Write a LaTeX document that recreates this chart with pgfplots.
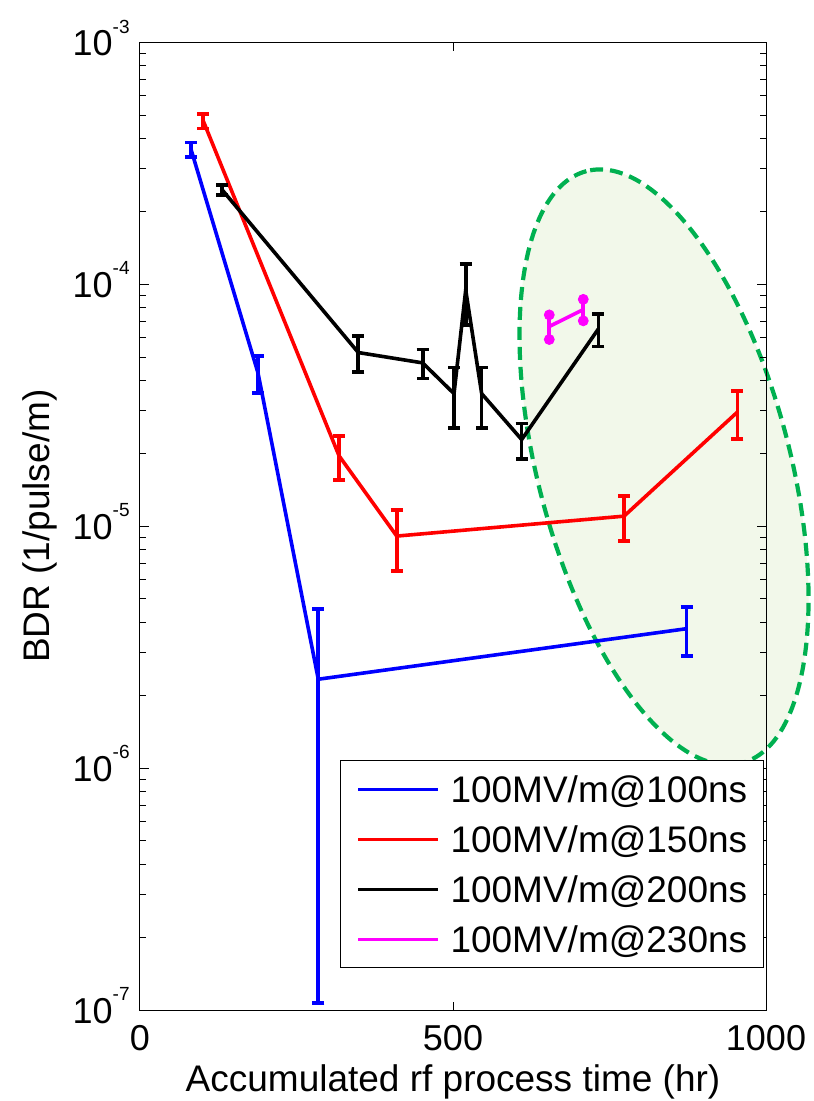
\documentclass[border=0pt]{standalone}
\usepackage{fontspec}
\setmainfont{Liberation Sans}
\usepackage{pgfplots}
\pgfplotsset{compat=1.18}
\definecolor{ellfill}{RGB}{242,248,234}
\definecolor{ellline}{RGB}{0,176,80}
\definecolor{mblue}{RGB}{0,0,255}
\definecolor{mred}{RGB}{255,0,0}
\definecolor{mmag}{RGB}{255,0,255}
\newcommand{\tp}[1]{10\raisebox{11.3pt}{\fontsize{9.5}{10}\selectfont #1}}
\pgfplotstableread{
x y e
81.5 3.61e-4 0.25e-4
188.5 4.3e-5 0.75e-5
284.8 2.33e-6 2.223e-6
873.3 3.77e-6 0.87e-6
}\blueT
\pgfplotstableread{
x y e
101.1 4.73e-4 0.32e-4
317.9 1.955e-5 0.40e-5
410.1 9.1e-6 2.56e-6
773.2 1.10e-5 0.23e-5
954.2 2.96e-5 0.67e-5
}\redT
\pgfplotstableread{
x y e
131.3 2.455e-4 0.115e-4
348.7 5.22e-5 0.89e-5
451.6 4.73e-5 0.65e-5
501.6 3.53e-5 0.99e-5
520.3 9.46e-5 2.66e-5
545.8 3.53e-5 0.99e-5
609.7 2.28e-5 0.38e-5
732.1 6.53e-5 1.0e-5
}\blackT
\pgfplotstableread{
x y e
653.8 6.69e-5 0.78e-5
708.1 7.86e-5 0.80e-5
}\magT
\begin{document}
\begin{tikzpicture}
\begin{axis}[
  at={(0pt,0pt)}, anchor=south west,
  scale only axis, width=313pt, height=483.85pt,
  xmin=0, xmax=1000, ymin=1e-7, ymax=1e-3, ymode=log,
  xtick={0,500,1000}, xticklabels={0,500,1000},
  minor xtick={},
  ytick={1e-7,1e-6,1e-5,1e-4,1e-3},
  yticklabels={\tp{-7},\tp{-6},\tp{-5},\tp{-4},\tp{-3}},
  minor ytick={2e-7,3e-7,4e-7,5e-7,6e-7,7e-7,8e-7,9e-7,2e-6,3e-6,4e-6,5e-6,6e-6,7e-6,8e-6,9e-6,2e-5,3e-5,4e-5,5e-5,6e-5,7e-5,8e-5,9e-5,2e-4,3e-4,4e-4,5e-4,6e-4,7e-4,8e-4,9e-4},
  tick align=inside,
  axis on top,
  clip=false,
  axis line style={line width=0.5pt},
  every tick/.style={black, line width=0.5pt},
  tick label style={font=\fontsize{18}{20}\selectfont},
  xticklabel style={anchor=base, yshift=-20pt},
  yticklabel style={anchor=base east, inner sep=0pt, xshift=-5pt, yshift=-6.65pt},
  xlabel={Accumulated rf process time (hr)},
  ylabel={BDR (1/pulse/m)},
  label style={font=\fontsize{18.5}{22}\selectfont},
  xlabel style={at={(axis description cs:0.5,-0.0844)}, anchor=base},
  ylabel style={at={(axis description cs:-0.1438,0.5)}, anchor=base},
  legend style={at={(0.3195,0.2583)}, anchor=north west, draw=black, line width=0.5pt, fill=white,
    inner xsep=8pt, inner ysep=7.7pt, row sep=11.8pt,
    font=\fontsize{18.5}{22}\selectfont,
    nodes={inner sep=0pt, text height=13.2pt, text depth=0pt},
    /tikz/every odd column/.append style={column sep=5.5pt}},
  legend cell align=left,
  legend image code/.code={\draw[line width=1.5pt] (0pt,0pt) -- (40pt,0pt);},
]
\fill[ellfill] (axis cs:837.1,1.754e-5) ellipse [x radius=153pt, y radius=63pt, rotate=104.7];
\draw[ellline, line width=2.1pt, dash pattern=on 6.5pt off 3.5pt] (axis cs:837.1,1.754e-5) ellipse [x radius=153pt, y radius=63pt, rotate=104.7];

\addplot[mblue, line width=1.8pt, no marks,
  error bars/.cd, y dir=both, y explicit,
  error bar style={line width=1.8pt},
  error mark options={rotate=90, mark size=3pt, line width=1.8pt, mblue}]
  table[x=x, y=y, y error=e] {\blueT};
\addlegendentry{100MV/m@100ns}
\addplot[mred, line width=1.8pt, no marks,
  error bars/.cd, y dir=both, y explicit,
  error bar style={line width=1.8pt},
  error mark options={rotate=90, mark size=3pt, line width=1.8pt, mred}]
  table[x=x, y=y, y error=e] {\redT};
\addlegendentry{100MV/m@150ns}
\addplot[black, line width=1.8pt, no marks,
  error bars/.cd, y dir=both, y explicit,
  error bar style={line width=1.8pt},
  error mark options={rotate=90, mark size=3pt, line width=1.8pt, black}]
  table[x=x, y=y, y error=e] {\blackT};
\addlegendentry{100MV/m@200ns}
\addplot[mmag, line width=1.8pt, no marks,
  error bars/.cd, y dir=both, y explicit,
  error bar style={line width=1.8pt},
  error mark=*,
  error mark options={mark size=2.5pt, mmag, fill=mmag}]
  table[x=x, y=y, y error=e] {\magT};
\addlegendentry{100MV/m@230ns}
\end{axis}
\pgfresetboundingbox
\path[use as bounding box] (-70pt,-45.5pt) rectangle (336.5pt,505pt);
\end{tikzpicture}
\end{document}
